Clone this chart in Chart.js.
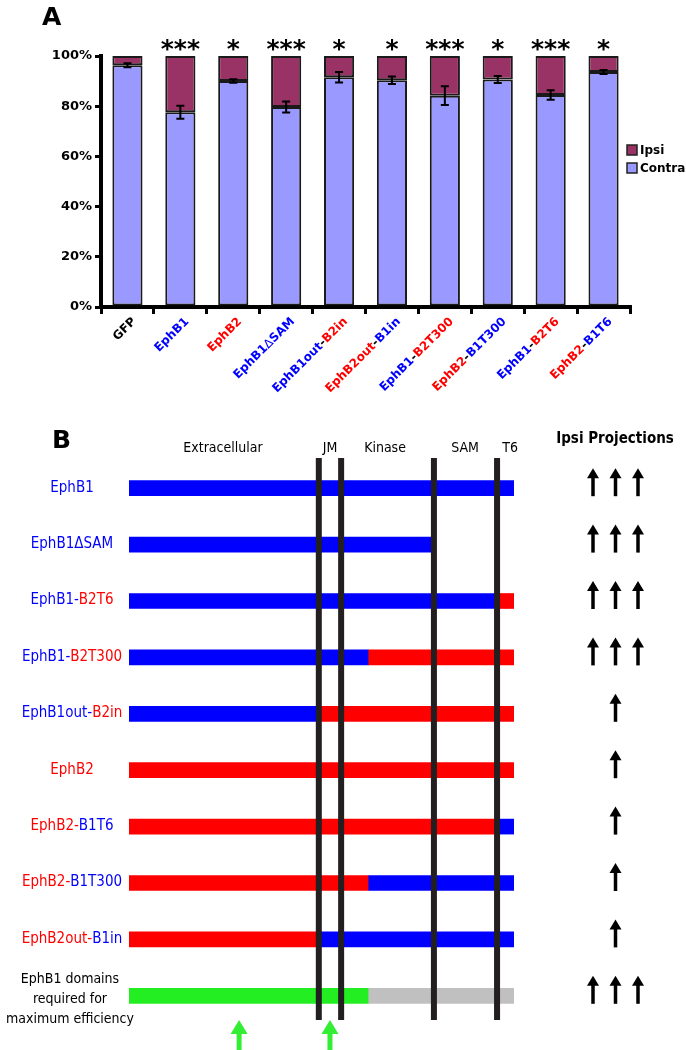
<!DOCTYPE html>
<html><head><meta charset="utf-8">
<script src="https://cdn.jsdelivr.net/npm/chart.js@4/dist/chart.umd.min.js"></script>
<style>
html,body{margin:0;padding:0;background:#fff;width:686px;height:1050px;overflow:hidden}
canvas{position:absolute;left:0}
</style></head>
<body>
<canvas id="a" width="686" height="420" style="top:0;width:686px;height:420px"></canvas>
<canvas id="b" width="686" height="670" style="top:380px;width:686px;height:670px"></canvas>
<script>
// ---------- Panel A data ----------
const categories = ['GFP','EphB1','EphB2','EphB1ΔSAM','EphB1out-B2in','EphB2out-B1in','EphB1-B2T300','EphB2-B1T300','EphB1-B2T6','EphB2-B1T6'];
const contraPct = [96.3, 77.6, 90.0, 79.7, 91.5, 90.3, 84.2, 90.6, 84.5, 93.6];
const ipsiPct   = [3.7, 22.4, 10.0, 20.3, 8.5, 9.7, 15.8, 9.4, 15.5, 6.4];
const contraSEM = [0.8, 2.6, 0.7, 2.2, 2.1, 1.5, 3.7, 1.4, 1.9, 0.8];
const significance = ['', '***', '*', '***', '*', '*', '***', '*', '***', '*'];
const yTicks = [0, 20, 40, 60, 80, 100];

// ---------- Panel B data ----------
const constructs = ['EphB1','EphB1ΔSAM','EphB1-B2T6','EphB1-B2T300','EphB1out-B2in','EphB2','EphB2-B1T6','EphB2-B1T300','EphB2out-B1in','EphB1 domains\nrequired for\nmaximum efficiency'];
const domainNames = ['Extracellular','JM','Kinase','SAM','T6'];
const domainLabelPos = [24.4, 52.2, 66.5, 87.3, 99.0];
const domainBoundaries = [49.3, 55.1, 79.2, 95.6];
const firstSegEnd  = [100, 79.2, 95.6, 62.1, 49.3, 100, 95.6, 62.1, 49.3, 62.1];
const secondSegEnd = [100, 79.2, 100, 100, 100, 100, 100, 100, 100, 100];
const firstSegOrigin  = ['B1','B1','B1','B1','B1','B2','B2','B2','B2','required'];
const secondSegOrigin = ['B1','B1','B2','B2','B2','B2','B1','B1','B1','other'];
const ipsiArrows = [3,3,3,3,1,1,1,1,1,3];
const keyDomainArrows = [28.6, 52.2];

const BLUE = '#0000ff', RED = '#ff0000';
const originColor = {B1: BLUE, B2: RED, required: '#22ee22', other: '#c0c0c0'};

Chart.defaults.font.family = "'DejaVu Sans', sans-serif";

function colorOf(p){ return /^(EphB1|B1)/.test(p) ? BLUE : (/^(EphB2|B2)/.test(p) ? RED : '#000'); }
function partsOf(label, hyphenBlack){
  const pieces = label.split('-');
  const out = [];
  pieces.forEach((p,k)=>{
    if(k>0) out.push(['-', hyphenBlack ? '#000' : colorOf(pieces[k-1])]);
    out.push([p, colorOf(p)]);
  });
  return out;
}
function drawRuns(ctx, parts, x, y, align, mainFont, deltaFont){
  const runs = [];
  parts.forEach(([t,c])=>{
    t.split(/(Δ)/).filter(Boolean).forEach(s=>runs.push({s, c, f: s==='Δ' ? deltaFont : mainFont}));
  });
  let total = 0;
  runs.forEach(r=>{ ctx.font = r.f; r.w = ctx.measureText(r.s).width; total += r.w; });
  let cx = align==='right' ? x - total : (align==='center' ? x - total/2 : x);
  ctx.textAlign = 'left';
  runs.forEach(r=>{ ctx.font = r.f; ctx.fillStyle = r.c; ctx.fillText(r.s, cx, y); cx += r.w; });
}

const panelA = {
  id: 'panelA',
  afterDraw(chart){
    const ctx = chart.ctx, xs = chart.scales.x, ys = chart.scales.y, area = chart.chartArea;
    ctx.save();
    // error bars
    ctx.strokeStyle = '#000'; ctx.lineWidth = 2;
    contraPct.forEach((v,i)=>{
      const px = xs.getPixelForValue(i);
      const t = ys.getPixelForValue(v + contraSEM[i]);
      const b = ys.getPixelForValue(v - contraSEM[i]);
      ctx.beginPath();
      ctx.moveTo(px, t); ctx.lineTo(px, b);
      ctx.moveTo(px-4, t); ctx.lineTo(px+4, t);
      ctx.moveTo(px-4, b); ctx.lineTo(px+4, b);
      ctx.stroke();
    });
    // significance stars
    ctx.fillStyle = '#000'; ctx.font = "bold 25px 'DejaVu Sans'"; ctx.textAlign = 'center'; ctx.textBaseline = 'alphabetic';
    significance.forEach((s,i)=>{ if(s) ctx.fillText(s, xs.getPixelForValue(i), area.top + 1); });
    // rotated category labels
    ctx.textBaseline = 'alphabetic';
    categories.forEach((c,i)=>{
      const px = xs.getPixelForValue(i);
      ctx.save();
      ctx.translate(px + 9, 322);
      ctx.rotate(-Math.PI/4);
      drawRuns(ctx, partsOf(c, true), 0, 0, 'right', "bold 12px 'DejaVu Sans'", "12px 'DejaVu Sans'");
      ctx.restore();
    });
    // legend (Ipsi above Contra)
    const ds = chart.data.datasets;
    [ds[1], ds[0]].forEach((d,k)=>{
      const yy = 145 + k*18;
      ctx.fillStyle = d.backgroundColor; ctx.fillRect(627, yy, 10, 10);
      ctx.strokeStyle = '#222'; ctx.lineWidth = 1.5; ctx.strokeRect(627, yy, 10, 10);
      ctx.fillStyle = '#000'; ctx.font = "bold 12px 'DejaVu Sans'"; ctx.textAlign = 'left'; ctx.textBaseline = 'middle';
      ctx.fillText(d.label, 640, yy + 5.5);
    });
    // panel letter
    ctx.font = "bold 25px 'DejaVu Sans'"; ctx.textAlign = 'left'; ctx.textBaseline = 'alphabetic'; ctx.fillStyle = '#000';
    ctx.fillText('A', 42, 25);
    ctx.restore();
  }
};

new Chart(document.getElementById('a'), {
  type: 'bar',
  data: {
    labels: categories,
    datasets: [
      {label: 'Contra', data: contraPct, backgroundColor: '#9999ff', borderColor: '#1a1a1a', borderWidth: 2, borderSkipped: false},
      {label: 'Ipsi', data: ipsiPct, backgroundColor: '#993366', borderColor: '#1a1a1a', borderWidth: 2, borderSkipped: false}
    ]
  },
  options: {
    responsive: false, animation: false, devicePixelRatio: 1,
    layout: {padding: {top: 56, right: 56, left: 0, bottom: 0}},
    datasets: {bar: {barPercentage: 0.57, categoryPercentage: 1}},
    plugins: {legend: {display: false}, tooltip: {enabled: false}},
    scales: {
      x: {stacked: true, offset: true,
          grid: {offset: true, drawOnChartArea: false, drawTicks: true, tickLength: 7, lineWidth: 3, color: '#000'},
          border: {display: true, color: '#000', width: 4},
          ticks: {display: false},
          afterFit: s => { s.height = 113; }},
      y: {stacked: true, min: 0, max: 100,
          afterBuildTicks: s => { s.ticks = yTicks.map(v => ({value: v})); },
          ticks: {callback: v => v + '%', color: '#000', font: {weight: 'bold', size: 13}, padding: 3},
          grid: {drawOnChartArea: false, drawTicks: true, tickLength: 6, lineWidth: 3, color: '#000'},
          border: {display: true, color: '#000', width: 4},
          afterFit: s => { s.width = 101; }}
    }
  },
  plugins: [panelA]
});

// ---------- Panel B ----------
const COND = "'DejaVu Sans Condensed', 'Liberation Sans Narrow', 'DejaVu Sans'";
function drawArrow(ctx, x, tipY, baseY, shaftW, headW, headH, color){
  ctx.fillStyle = color; ctx.strokeStyle = color;
  ctx.lineWidth = shaftW; ctx.lineCap = 'butt';
  ctx.beginPath(); ctx.moveTo(x, baseY); ctx.lineTo(x, tipY + headH - 1); ctx.stroke();
  ctx.beginPath(); ctx.moveTo(x, tipY); ctx.lineTo(x - headW/2, tipY + headH); ctx.lineTo(x + headW/2, tipY + headH); ctx.closePath(); ctx.fill();
}
const panelB = {
  id: 'panelB',
  afterDatasetsDraw(chart){
    const ctx = chart.ctx, xs = chart.scales.x, area = chart.chartArea;
    ctx.save();
    ctx.strokeStyle = '#231f20'; ctx.lineWidth = 6;
    domainBoundaries.forEach(v=>{
      const px = xs.getPixelForValue(v);
      ctx.beginPath(); ctx.moveTo(px, area.top - 2); ctx.lineTo(px, area.bottom - 4); ctx.stroke();
    });
    ctx.restore();
  },
  afterDraw(chart){
    const ctx = chart.ctx, xs = chart.scales.x, ys = chart.scales.y, area = chart.chartArea;
    ctx.save();
    // panel letter
    ctx.fillStyle = '#000'; ctx.font = "bold 25px 'DejaVu Sans'"; ctx.textAlign = 'left'; ctx.textBaseline = 'alphabetic';
    ctx.fillText('B', 52, 68);
    // domain headers
    ctx.font = '14px ' + COND; ctx.textAlign = 'center';
    domainNames.forEach((n,i)=> ctx.fillText(n, xs.getPixelForValue(domainLabelPos[i]), 72));
    // Ipsi projections header
    ctx.font = 'bold 15px ' + COND;
    ctx.fillText('Ipsi Projections', 615, 63);
    // row labels + arrows
    constructs.forEach((c,i)=>{
      const py = ys.getPixelForValue(i);
      if (c.includes('\n')) {
        ctx.fillStyle = '#000'; ctx.font = '14px ' + COND; ctx.textAlign = 'center'; ctx.textBaseline = 'middle';
        const lines = c.split('\n');
        lines.forEach((l,k)=> ctx.fillText(l, 70, py - 16 + k*20));
      } else {
        ctx.textBaseline = 'middle';
        drawRuns(ctx, partsOf(c, false), 72, py - 0.5, 'center', '15px ' + COND, '15px ' + COND);
      }
      const n = ipsiArrows[i];
      for (let k=0;k<n;k++){
        const ax = 615.5 + (k - (n-1)/2) * 22.5;
        drawArrow(ctx, ax, py - 20, py + 8, 3.5, 12, 10, '#000');
      }
    });
    // key domain arrows (green)
    keyDomainArrows.forEach(v=>{
      const px = xs.getPixelForValue(v);
      drawArrow(ctx, px, area.bottom - 4, chart.height + 2, 5, 17, 14, '#33ee33');
    });
    ctx.restore();
  }
};

new Chart(document.getElementById('b'), {
  type: 'bar',
  data: {
    labels: constructs,
    datasets: [
      {label: 'N-terminal part', data: constructs.map((c,i)=>[0, firstSegEnd[i]]),
       backgroundColor: firstSegOrigin.map(o=>originColor[o])},
      {label: 'C-terminal part', data: constructs.map((c,i)=> secondSegEnd[i] > firstSegEnd[i] ? [firstSegEnd[i], secondSegEnd[i]] : null),
       backgroundColor: secondSegOrigin.map(o=>originColor[o])}
    ]
  },
  options: {
    indexAxis: 'y', responsive: false, animation: false, devicePixelRatio: 1,
    layout: {padding: {top: 80, bottom: 26, left: 129, right: 172}},
    datasets: {bar: {grouped: false, barThickness: 15, borderWidth: 0}},
    plugins: {legend: {display: false}, tooltip: {enabled: false}},
    scales: {
      x: {type: 'linear', min: 0, max: 100, display: false},
      y: {type: 'category', display: false, offset: true}
    }
  },
  plugins: [panelB]
});
</script>
</body></html>
